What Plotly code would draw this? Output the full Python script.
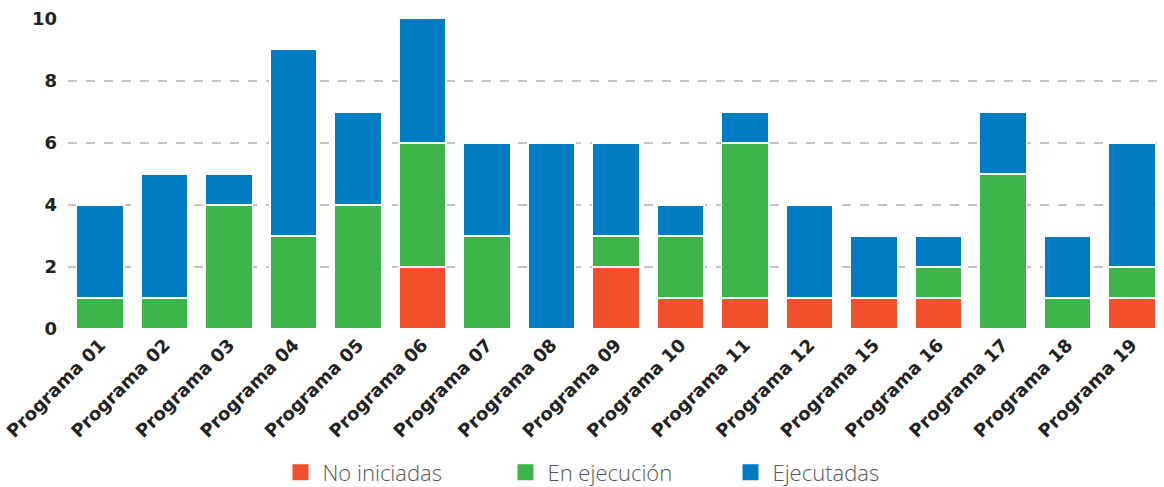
import plotly.graph_objects as go

programas = ["Programa 01", "Programa 02", "Programa 03", "Programa 04", "Programa 05",
             "Programa 06", "Programa 07", "Programa 08", "Programa 09", "Programa 10",
             "Programa 11", "Programa 12", "Programa 15", "Programa 16", "Programa 17",
             "Programa 18", "Programa 19"]
no_iniciadas = [0, 0, 0, 0, 0, 2, 0, 0, 2, 1, 1, 1, 1, 1, 0, 0, 1]
en_ejecucion = [1, 1, 4, 3, 4, 4, 3, 0, 1, 2, 5, 0, 0, 1, 5, 1, 1]
ejecutadas = [3, 4, 1, 6, 3, 4, 3, 6, 3, 1, 1, 3, 2, 1, 2, 2, 4]

series = [("No iniciadas", no_iniciadas, "#F0512A"),
          ("En ejecución", en_ejecucion, "#3BB54A"),
          ("Ejecutadas", ejecutadas, "#007CC3")]

fig = go.Figure()
for name, vals, color in series:
    fig.add_trace(go.Bar(
        name=name, x=programas, y=vals, showlegend=False,
        marker=dict(color=color, line=dict(color="white", width=1.5))))
# legend entries with bigger square swatches
for name, vals, color in series:
    fig.add_trace(go.Scatter(
        name=name, x=[None], y=[None], mode="markers",
        marker=dict(symbol="square", size=20, color=color)))

fig.update_layout(
    barmode="stack",
    bargap=0.27,
    width=1164, height=487,
    margin=dict(l=68, r=0, t=18, b=157, autoexpand=False),
    plot_bgcolor="white", paper_bgcolor="white",
    font=dict(family="Lato", color="#222"),
    legend=dict(orientation="h", x=0.5, xanchor="center",
                yref="container", y=0.03, yanchor="middle",
                traceorder="normal",
                font=dict(size=22, color="#555", family="Open Sans", weight=300),
                itemwidth=34, entrywidthmode="pixels", entrywidth=176),
)
fig.update_yaxes(range=[-0.03, 10.02], dtick=2, showgrid=True, gridcolor="#c4c4c4",
                 griddash="dash", gridwidth=2, zeroline=False, automargin=False,
                 tickfont=dict(family="DejaVu Sans", weight="bold", size=18, color="#222"),
                 ticks="", ticklabelstandoff=10)
fig.update_xaxes(tickangle=-45, showgrid=False, automargin=False,
                 tickfont=dict(family="DejaVu Sans", weight="bold", size=18, color="#222"))
fig.write_html("out.html", config={"displayModeBar": False},
               post_script="document.body.style.margin='0';")
